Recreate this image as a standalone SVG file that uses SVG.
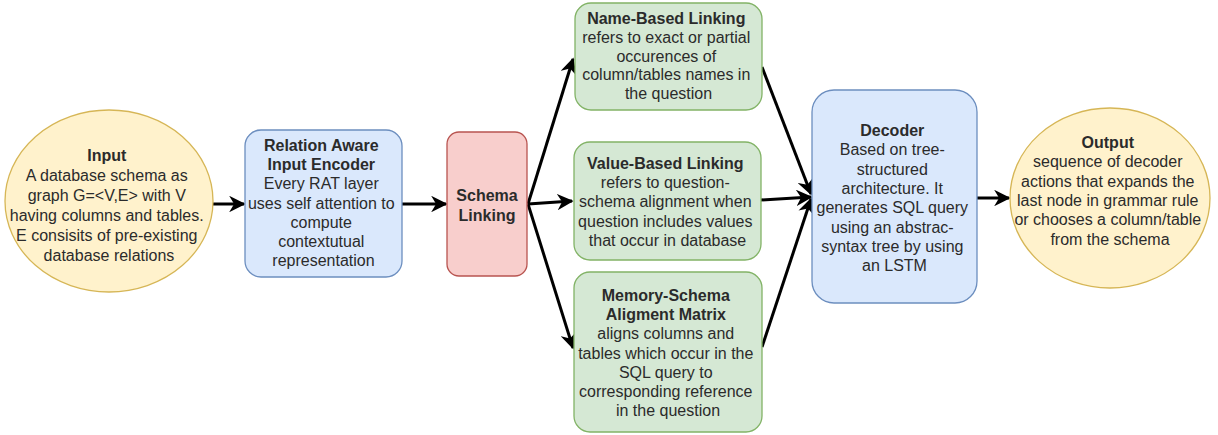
<svg xmlns="http://www.w3.org/2000/svg" width="1218" height="435" viewBox="0 0 1218 435">
  <style>
    text { font-family: "Liberation Sans", Arial, sans-serif; font-size: 16px; fill: #2b2b2b; text-anchor: middle; }
    .b { font-weight: bold; }
    .yellow { fill: #fff2cc; stroke: #d6b656; stroke-width: 1.3; }
    .blue { fill: #dae8fc; stroke: #6c8ebf; stroke-width: 1.3; }
    .green { fill: #d5e8d4; stroke: #82b366; stroke-width: 1.3; }
    .red { fill: #f8cecc; stroke: #b85450; stroke-width: 1.3; }
    .edge { fill: none; stroke: #000; stroke-width: 3; marker-end: url(#arrow); }
  </style>
  <defs>
    <marker id="arrow" viewBox="0 0 10 10" refX="9" refY="5" markerWidth="5.5" markerHeight="5.5" markerUnits="strokeWidth" orient="auto">
      <path d="M0,0 L10,5 L0,10 L3,5 Z" fill="#000"/>
    </marker>
  </defs>
  <rect width="1218" height="435" fill="#fff"/>

  <g id="connectors">
    <line class="edge" x1="213" y1="204" x2="244" y2="204"/>
    <line class="edge" x1="402" y1="204" x2="446" y2="204"/>
    <line class="edge" x1="528" y1="204" x2="573" y2="59"/>
    <line class="edge" x1="528" y1="204" x2="572" y2="201"/>
    <line class="edge" x1="528" y1="204" x2="573" y2="348"/>
    <line class="edge" x1="762" y1="67" x2="811" y2="194"/>
    <line class="edge" x1="761" y1="200" x2="811" y2="197"/>
    <line class="edge" x1="762" y1="347" x2="811" y2="199"/>
    <line class="edge" x1="977" y1="198" x2="1009" y2="198"/>
  </g>

  <g id="input">
    <ellipse class="yellow" cx="109" cy="201" rx="104" ry="91"/>
    <text x="109" y="161"><tspan class="b">Input</tspan>
      <tspan x="109" dy="20">A database schema as</tspan>
      <tspan x="109" dy="20">graph G=&lt;V,E&gt; with V</tspan>
      <tspan x="109" dy="20">having columns and tables.</tspan>
      <tspan x="109" dy="20">E consisits of pre-existing</tspan>
      <tspan x="109" dy="20">database relations</tspan></text>
  </g>

  <g id="encoder">
    <rect class="blue" x="245" y="130" width="157" height="147" rx="16"/>
    <text x="323.5" y="151"><tspan class="b">Relation Aware</tspan>
      <tspan x="323.5" dy="19.2" class="b">Input Encoder</tspan>
      <tspan x="323.5" dy="19.2">Every RAT layer</tspan>
      <tspan x="323.5" dy="19.2">uses self attention to</tspan>
      <tspan x="323.5" dy="19.2">compute</tspan>
      <tspan x="323.5" dy="19.2">contextutual</tspan>
      <tspan x="323.5" dy="19.2">representation</tspan></text>
  </g>

  <g id="schema-linking">
    <rect class="red" x="447" y="132" width="80" height="144" rx="12"/>
    <text x="487" y="201" class="b">Schema<tspan x="487" dy="19.5">Linking</tspan></text>
  </g>

  <g id="name-based">
    <rect class="green" x="575" y="3" width="187" height="107" rx="16"/>
    <text x="668.5" y="24"><tspan class="b">Name-Based Linking</tspan>
      <tspan x="668.5" dy="18.8">refers to exact or partial</tspan>
      <tspan x="668.5" dy="18.8">occurences of</tspan>
      <tspan x="668.5" dy="18.8">column/tables names in</tspan>
      <tspan x="668.5" dy="18.8">the question</tspan></text>
  </g>

  <g id="value-based">
    <rect class="green" x="574" y="142" width="187" height="118" rx="16"/>
    <text x="667.5" y="169"><tspan class="b">Value-Based Linking</tspan>
      <tspan x="667.5" dy="19.2">refers to question-</tspan>
      <tspan x="667.5" dy="19.2">schema alignment when</tspan>
      <tspan x="667.5" dy="19.2">question includes values</tspan>
      <tspan x="667.5" dy="19.2">that occur in database</tspan></text>
  </g>

  <g id="memory-schema">
    <rect class="green" x="574" y="272" width="188" height="160" rx="16"/>
    <text x="668" y="301"><tspan class="b">Memory-Schema</tspan>
      <tspan x="668" dy="19.2" class="b">Aligment Matrix</tspan>
      <tspan x="668" dy="19.2">aligns columns and</tspan>
      <tspan x="668" dy="19.2">tables which occur in the</tspan>
      <tspan x="668" dy="19.2">SQL query to</tspan>
      <tspan x="668" dy="19.2">corresponding reference</tspan>
      <tspan x="668" dy="19.2">in the question</tspan></text>
  </g>

  <g id="decoder">
    <rect class="blue" x="812" y="90" width="165" height="213" rx="22"/>
    <text x="894.5" y="136"><tspan class="b">Decoder</tspan>
      <tspan x="894.5" dy="19.3">Based on tree-</tspan>
      <tspan x="894.5" dy="19.3">structured</tspan>
      <tspan x="894.5" dy="19.3">architecture. It</tspan>
      <tspan x="894.5" dy="19.3">generates SQL query</tspan>
      <tspan x="894.5" dy="19.3">using an abstrac-</tspan>
      <tspan x="894.5" dy="19.3">syntax tree by using</tspan>
      <tspan x="894.5" dy="19.3">an LSTM</tspan></text>
  </g>

  <g id="output">
    <ellipse class="yellow" cx="1110" cy="198" rx="100" ry="90"/>
    <text x="1110" y="148"><tspan class="b">Output</tspan>
      <tspan x="1110" dy="19.3">sequence of decoder</tspan>
      <tspan x="1110" dy="19.3">actions that expands the</tspan>
      <tspan x="1110" dy="19.3">last node in grammar rule</tspan>
      <tspan x="1110" dy="19.3">or chooses a column/table</tspan>
      <tspan x="1110" dy="19.3">from the schema</tspan></text>
  </g>
</svg>
